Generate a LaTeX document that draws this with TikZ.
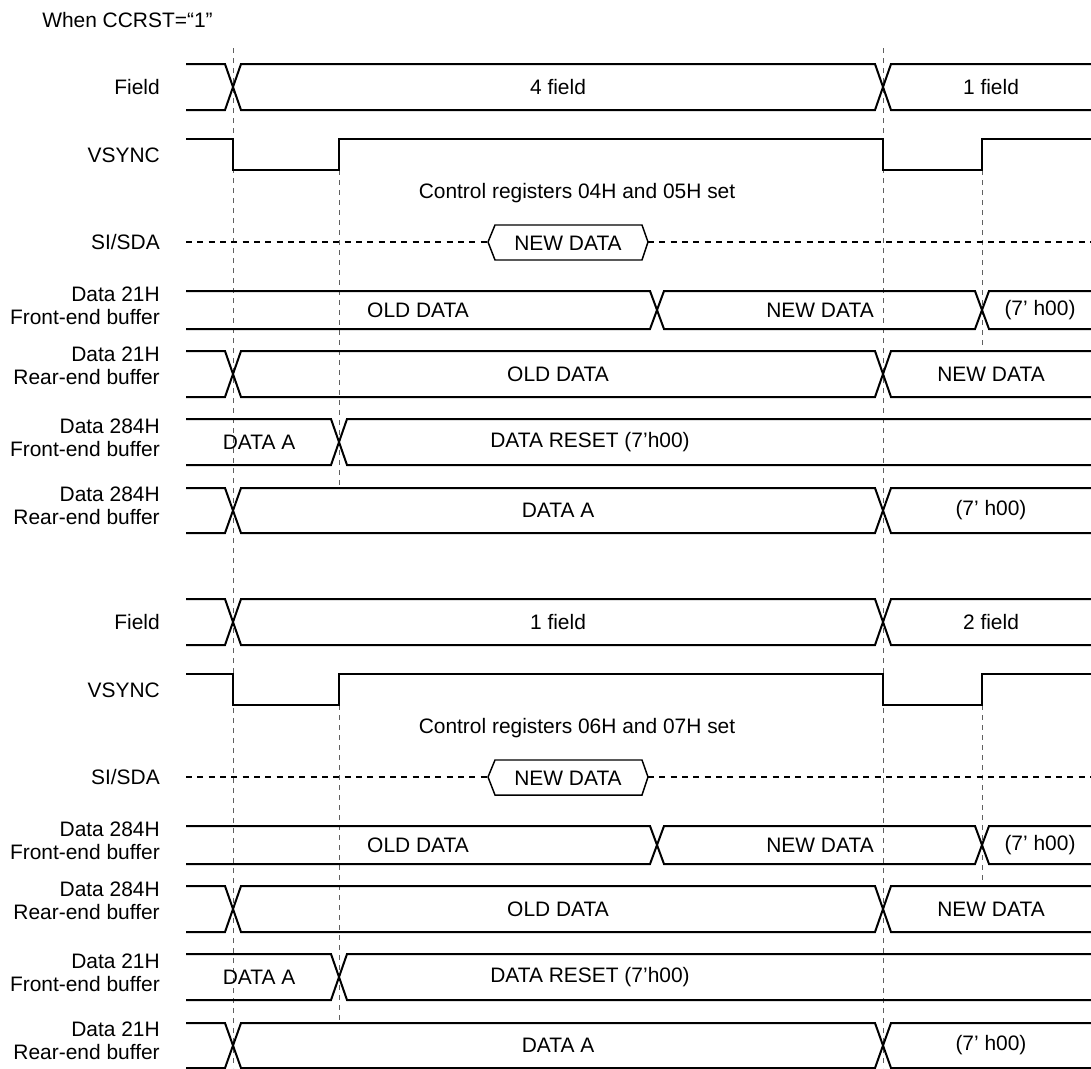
\documentclass[tikz,border=0pt]{standalone}
\usepackage{fontspec}
\setmainfont{Liberation Sans}
\usepackage{tikz}

\begin{document}
\begin{tikzpicture}[x=0.75pt,y=-0.75pt]
  \tikzset{
    wave/.style={line width=1.5pt,line join=miter},
    guide/.style={gray!75!black,line width=0.6pt,dash pattern=on 4pt off 3.5pt},
    sdaline/.style={line width=1.1pt,dash pattern=on 4.5pt off 4pt},
    txt/.style={font=\fontsize{15.7}{17}\selectfont,inner sep=0pt},
    lbl/.style={txt,anchor=east,align=right},
  }
  \useasboundingbox (0,0) rectangle (1091,1068);

  \node[txt,anchor=west] (title) at (42,20) {When CCRST=“1”};

  % guides through both halves
  \draw[guide] (233,48) -- (233,1068);
  \draw[guide] (883,48) -- (883,1068);

  \foreach \dy/\fa/\fb/\reg/\da/\db [count=\i] in
    {0/4/1/04H and 05H/21H/284H, 535/1/2/06H and 07H/284H/21H}
  {
  \begin{scope}[shift={(0,\dy)}]
    \draw[guide] (339,170) -- (339,488);
    \draw[guide] (982,170) -- (982,351);

    % Field
    \node[lbl] (lblfield\i) at (160,87) {Field};
    \draw[wave] (186,64) -- (225,64) -- (241,110) -- (875,110) -- (891,64) -- (1091,64);
    \draw[wave] (186,110) -- (225,110) -- (241,64) -- (875,64) -- (891,110) -- (1091,110);
    \node[txt] (fielda\i) at (558,87) {\fa{} field};
    \node[txt] (fieldb\i) at (991,87) {\fb{} field};

    % VSYNC
    \node[lbl] (lblvsync\i) at (160,155) {VSYNC};
    \draw[wave] (186,139) -| (233,170) -| (339,139) -| (883,170) -| (982,139) -- (1091,139);

    % SI/SDA
    \node[txt] (ctrl\i) at (577,193) {Control registers \reg{} set};
    \node[lbl] (lblsda\i) at (160,242) {SI/SDA};
    \draw[sdaline] (186,242) -- (488,242);
    \draw[line width=1.1pt] (488,242) -- (495,225) -- (642,225) -- (648,242)
      -- (642,260) -- (495,260) -- cycle;
    \draw[sdaline] (648,242) -- (1091,242);
    \node[txt] (sdadata\i) at (568,243) {NEW DATA};

    % front-end buffer, first line
    \node[lbl] (lblfronta\i) at (160,306) {Data \da\\Front-end buffer};
    \draw[wave] (186,291) -- (650,291) -- (664,329) -- (975,329) -- (989,291) -- (1091,291);
    \draw[wave] (186,329) -- (650,329) -- (664,291) -- (975,291) -- (989,329) -- (1091,329);
    \node[txt] (fronta\i) at (418,310) {OLD DATA};
    \node[txt] (frontb\i) at (820,310) {NEW DATA};
    \node[txt] (frontc\i) at (1040,310) {(7’ h00)};

    % rear-end buffer, first line
    \node[lbl] (lblreara\i) at (160,366) {Data \da\\Rear-end buffer};
    \draw[wave] (186,351) -- (225,351) -- (241,397) -- (875,397) -- (891,351) -- (1091,351);
    \draw[wave] (186,397) -- (225,397) -- (241,351) -- (875,351) -- (891,397) -- (1091,397);
    \node[txt] (reara\i) at (558,374) {OLD DATA};
    \node[txt] (rearb\i) at (991,374) {NEW DATA};

    % front-end buffer, second line
    \node[lbl] (lblfrontb\i) at (160,438) {Data \db\\Front-end buffer};
    \draw[wave] (186,419) -- (331,419) -- (347,465) -- (1091,465);
    \draw[wave] (186,465) -- (331,465) -- (347,419) -- (1091,419);
    \node[txt] (resa\i) at (259,442) {DATA A};
    \node[txt] (resb\i) at (590,442) {DATA RESET (7’h00)};

    % rear-end buffer, second line
    \node[lbl] (lblrearb\i) at (160,506) {Data \db\\Rear-end buffer};
    \draw[wave] (186,488) -- (225,488) -- (241,533) -- (875,533) -- (891,488) -- (1091,488);
    \draw[wave] (186,533) -- (225,533) -- (241,488) -- (875,488) -- (891,533) -- (1091,533);
    \node[txt] (olda\i) at (558,510) {DATA A};
    \node[txt] (oldb\i) at (991,510) {(7’ h00)};
  \end{scope}
  }
\end{tikzpicture}
\end{document}
